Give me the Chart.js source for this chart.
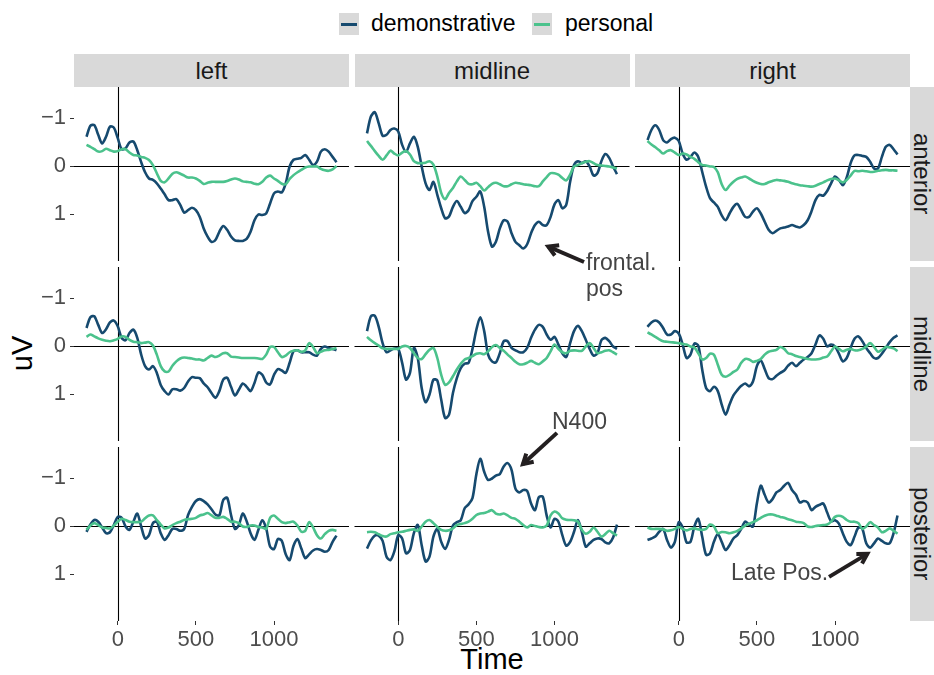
<!DOCTYPE html>
<html>
<head>
<meta charset="utf-8">
<title>ERP waveforms by region</title>
<script src="https://cdn.jsdelivr.net/npm/chart.js"></script>
<style>
  html, body { margin: 0; padding: 0; background: #fff; }
  #fig { position: relative; width: 934px; height: 675px; overflow: hidden; font-family: "Liberation Sans", Arial, Helvetica, sans-serif; }
  #fig canvas { position: absolute; left: 0; top: 0; }
  .strip { position: absolute; background: #d9d9d9; color: #1a1a1a; font-size: 24px; display: flex; align-items: center; justify-content: center; white-space: nowrap; }
  .strip.side span { writing-mode: vertical-rl; }
  .key { position: absolute; top: 13px; width: 20px; height: 22px; background: #d9d9d9; }
  .key i { position: absolute; left: 2px; right: 2px; top: 9.5px; height: 3px; }
  .ltext { position: absolute; top: 8px; font-size: 23px; line-height: 30px; color: #000; }
  .note { position: absolute; font-size: 23px; line-height: 26px; color: #444; white-space: pre; z-index: 3; }
  .title { position: absolute; font-size: 29px; line-height: 33px; color: #000; text-align: center; }
</style>
</head>
<body>
<div id="fig"></div>
<script>
// time points (ms) shared by every series
const times = [-200,-175,-150,-125,-100,-75,-50,-25,0,25,50,75,100,125,150,175,200,225,250,275,300,325,350,375,400,425,450,475,500,525,550,575,600,625,650,675,700,725,750,775,800,825,850,875,900,925,950,975,1000,1025,1050,1075,1100,1125,1150,1175,1200,1225,1250,1275,1300,1325,1350,1375,1400];
const xTicks = [0, 500, 1000];
const yTicks = [-1, 0, 1];
const colNames = ['left', 'midline', 'right'];
const rowNames = ['anterior', 'midline', 'posterior'];
const seriesNames = ['demonstrative', 'personal'];

// anterior row
const demo_ant_left = [-0.61,-0.84,-0.85,-0.65,-0.47,-0.61,-0.82,-0.80,-0.58,-0.35,
  -0.37,-0.49,-0.51,-0.33,-0.08,0.13,0.26,0.29,0.36,0.47,
  0.59,0.71,0.71,0.69,0.81,0.97,0.92,0.87,0.92,1.06,
  1.30,1.47,1.58,1.54,1.37,1.25,1.33,1.47,1.55,1.56,
  1.56,1.52,1.37,1.13,1.01,1.02,0.99,0.78,0.57,0.53,
  0.55,0.36,0.01,-0.13,-0.15,-0.17,-0.23,-0.13,-0.02,-0.09,
  -0.30,-0.35,-0.30,-0.19,-0.08];
const pers_ant_left = [-0.44,-0.40,-0.35,-0.30,-0.31,-0.36,-0.33,-0.30,-0.31,-0.35,
  -0.35,-0.28,-0.23,-0.22,-0.19,-0.17,-0.125,-0.02,0.15,0.31,
  0.34,0.26,0.16,0.13,0.16,0.20,0.24,0.24,0.26,0.31,
  0.375,0.35,0.33,0.33,0.33,0.33,0.31,0.28,0.26,0.28,
  0.32,0.33,0.34,0.37,0.38,0.33,0.24,0.20,0.26,0.31,
  0.37,0.38,0.27,0.19,0.13,0.08,0.03,0.01,0.01,0.01,
  0.06,0.09,0.10,0.07,0.00];
const demo_ant_mid = [-0.68,-1.03,-1.12,-0.89,-0.63,-0.65,-0.75,-0.78,-0.72,-0.44,
  -0.30,-0.47,-0.61,-0.40,0.01,0.36,0.50,0.33,0.60,0.88,
  1.09,1.05,0.85,0.73,0.85,0.98,0.92,0.73,0.64,0.53,
  0.85,1.37,1.68,1.58,1.30,1.13,1.16,1.40,1.58,1.65,
  1.72,1.63,1.40,1.23,1.16,1.23,1.23,1.06,0.80,0.71,
  0.88,0.81,0.33,-0.02,-0.10,-0.06,-0.10,0.01,0.20,0.15,
  -0.10,-0.25,-0.17,0.01,0.17];
const pers_ant_mid = [-0.52,-0.42,-0.31,-0.21,-0.13,-0.22,-0.32,-0.26,-0.22,-0.28,
  -0.31,-0.24,-0.10,-0.06,-0.06,-0.07,-0.10,-0.03,0.22,0.56,
  0.69,0.56,0.46,0.32,0.22,0.29,0.37,0.38,0.35,0.42,
  0.51,0.44,0.37,0.35,0.38,0.42,0.42,0.38,0.35,0.36,
  0.38,0.39,0.40,0.42,0.42,0.32,0.23,0.15,0.15,0.18,
  0.25,0.30,0.18,0.01,-0.02,-0.06,-0.09,-0.10,-0.06,-0.02,
  -0.01,0.00,0.01,0.03,0.05];
const demo_ant_right = [-0.54,-0.75,-0.85,-0.75,-0.54,-0.49,-0.56,-0.59,-0.52,-0.26,
  -0.13,-0.19,-0.28,-0.19,0.12,0.43,0.67,0.76,0.85,1.03,
  1.13,0.99,0.85,0.79,0.92,1.06,1.06,0.95,0.88,0.99,
  1.16,1.33,1.40,1.35,1.30,1.28,1.26,1.23,1.26,1.28,
  1.23,1.13,0.94,0.71,0.60,0.62,0.52,0.36,0.22,0.29,
  0.40,0.24,-0.06,-0.22,-0.23,-0.21,-0.19,-0.09,0.05,0.05,
  -0.19,-0.40,-0.44,-0.35,-0.24];
const pers_ant_right = [-0.52,-0.45,-0.39,-0.33,-0.26,-0.31,-0.33,-0.28,-0.23,-0.26,
  -0.24,-0.19,-0.15,-0.08,-0.02,-0.01,0.01,0.02,0.13,0.38,
  0.50,0.41,0.33,0.27,0.24,0.22,0.26,0.31,0.35,0.375,
  0.375,0.34,0.31,0.29,0.30,0.31,0.33,0.36,0.38,0.40,
  0.41,0.42,0.43,0.41,0.375,0.34,0.30,0.27,0.26,0.30,
  0.34,0.29,0.20,0.10,0.11,0.10,0.11,0.125,0.12,0.10,
  0.09,0.08,0.09,0.09,0.10];

// midline row
const demo_mid_left = [-0.375,-0.60,-0.62,-0.44,-0.27,-0.35,-0.49,-0.53,-0.41,-0.17,
  -0.12,-0.27,-0.34,-0.17,0.18,0.42,0.49,0.42,0.56,0.81,
  0.94,1.01,0.90,0.90,0.93,0.875,0.74,0.65,0.66,0.67,
  0.78,0.86,0.98,1.08,0.94,0.70,0.66,0.85,1.03,0.91,
  0.78,0.85,0.94,0.77,0.55,0.60,0.76,0.80,0.60,0.48,
  0.51,0.56,0.35,0.11,0.09,0.13,0.13,0.13,0.18,0.20,
  0.06,0.01,0.04,0.06,0.09];
const pers_mid_left = [-0.19,-0.24,-0.20,-0.16,-0.13,-0.11,-0.10,-0.12,-0.15,-0.20,
  -0.19,-0.13,-0.09,-0.08,-0.06,-0.07,-0.08,-0.01,0.18,0.42,
  0.53,0.53,0.41,0.32,0.26,0.24,0.25,0.26,0.28,0.28,
  0.30,0.25,0.20,0.23,0.20,0.15,0.15,0.22,0.23,0.24,
  0.25,0.25,0.25,0.25,0.26,0.27,0.18,0.02,0.02,0.13,
  0.23,0.20,0.13,0.10,0.09,0.12,0.09,-0.06,0.02,0.15,
  0.12,0.09,0.08,0.06,0.04];
const demo_mid_mid = [-0.31,-0.62,-0.63,-0.40,-0.06,0.13,0.09,0.05,0.06,0.35,
  0.70,0.56,0.04,0.25,0.875,1.17,1.01,0.70,0.72,1.12,
  1.50,1.43,0.98,0.67,0.46,0.37,0.35,0.06,-0.34,-0.60,
  -0.31,0.18,0.32,0.34,0.15,-0.10,-0.10,0.04,0.09,0.13,
  0.13,0.04,-0.17,-0.34,-0.44,-0.40,-0.24,-0.13,-0.19,-0.03,
  0.15,0.23,-0.06,-0.31,-0.42,-0.31,-0.13,0.06,0.20,0.15,
  -0.12,-0.17,-0.10,0.01,0.06];
const pers_mid_mid = [-0.19,-0.12,-0.06,-0.01,0.05,0.06,0.06,0.06,0.06,0.01,
  0.00,0.04,0.15,0.25,0.27,0.17,0.08,0.04,0.25,0.60,
  0.81,0.76,0.63,0.49,0.37,0.28,0.25,0.21,0.16,0.15,
  0.17,0.11,0.02,-0.02,0.04,0.10,0.18,0.25,0.33,0.38,
  0.38,0.35,0.31,0.35,0.38,0.32,0.25,0.11,-0.03,0.06,
  0.13,0.15,0.10,0.09,0.10,0.10,0.01,-0.06,0.04,0.15,
  0.13,0.10,0.09,0.13,0.18];
const demo_mid_right = [-0.40,-0.49,-0.53,-0.49,-0.375,-0.24,-0.24,-0.31,-0.26,-0.03,
  0.25,0.18,-0.05,-0.01,0.49,0.875,0.94,0.85,0.94,1.22,
  1.43,1.22,1.03,0.92,0.83,0.78,0.84,0.74,0.42,0.30,
  0.48,0.67,0.69,0.62,0.56,0.51,0.41,0.35,0.42,0.35,
  0.28,0.23,0.15,-0.03,-0.22,-0.15,0.01,-0.03,0.01,0.16,
  0.32,0.25,0.04,-0.15,-0.20,-0.10,0.04,0.15,0.25,0.25,
  0.16,0.04,-0.08,-0.17,-0.22];
const pers_mid_right = [-0.285,-0.24,-0.19,-0.14,-0.10,-0.09,-0.08,-0.07,-0.06,-0.04,
  -0.03,0.01,0.03,0.15,0.28,0.25,0.16,0.18,0.39,0.60,
  0.64,0.60,0.54,0.49,0.35,0.27,0.28,0.33,0.31,0.27,
  0.18,0.12,0.10,0.08,0.02,0.06,0.15,0.17,0.21,0.23,
  0.25,0.27,0.28,0.28,0.27,0.24,0.22,0.11,0.01,0.06,
  0.11,0.08,0.06,0.09,0.09,0.06,0.01,-0.06,0.02,0.12,
  0.08,0.02,0.03,0.05,0.11];

// posterior row
const demo_post_left = [0.12,-0.03,-0.125,-0.09,0.03,0.15,0.13,-0.02,-0.19,-0.17,
  0.01,0.08,-0.09,-0.26,0.01,0.26,0.19,-0.06,-0.09,0.15,
  0.29,0.19,0.06,0.06,0.10,0.06,-0.23,-0.40,-0.52,-0.56,
  -0.52,-0.45,-0.35,-0.24,-0.22,-0.54,-0.59,-0.23,0.06,-0.02,
  -0.26,-0.10,0.15,0.29,0.08,-0.12,0.05,0.43,0.48,0.27,
  0.31,0.59,0.71,0.41,0.27,0.47,0.67,0.59,0.51,0.48,
  0.50,0.535,0.50,0.33,0.20];
const pers_post_left = [0.08,-0.01,-0.06,-0.02,0.03,0.04,0.05,-0.01,-0.09,-0.15,
  -0.125,-0.09,-0.08,-0.08,-0.09,-0.16,-0.22,-0.22,-0.125,-0.03,
  0.05,0.03,-0.02,-0.06,-0.09,-0.125,-0.14,-0.15,-0.17,-0.22,
  -0.24,-0.27,-0.22,-0.17,-0.17,-0.19,-0.15,-0.09,-0.09,-0.06,
  0.01,0.02,-0.01,-0.01,0.02,0.03,0.06,-0.17,-0.22,-0.15,
  -0.08,-0.06,-0.08,-0.09,-0.01,0.12,0.10,-0.08,0.03,0.19,
  0.26,0.17,0.10,0.08,0.10];
const demo_post_mid = [0.47,0.30,0.20,0.20,0.31,0.64,0.71,0.53,0.19,0.26,
  0.57,0.50,0.15,-0.02,0.40,0.74,0.64,0.22,0.06,0.33,
  0.48,0.29,-0.01,-0.08,-0.12,-0.37,-0.45,-0.58,-1.08,-1.40,
  -1.13,-0.96,-0.99,-1.05,-1.08,-1.24,-1.31,-1.17,-0.78,-0.70,
  -0.75,-0.73,-0.47,-0.33,-0.60,-0.61,-0.215,0.03,-0.15,-0.09,
  0.19,0.41,0.33,0.12,-0.125,0.12,0.43,0.36,0.29,0.26,
  0.27,0.34,0.36,0.24,-0.03];
const pers_post_mid = [0.13,0.12,0.13,0.17,0.21,0.22,0.17,0.15,0.13,0.12,
  0.10,0.08,0.07,0.10,0.01,-0.09,-0.125,-0.06,0.02,0.08,
  0.10,0.09,0.05,-0.02,-0.04,-0.06,-0.09,-0.15,-0.23,-0.26,
  -0.27,-0.30,-0.33,-0.26,-0.24,-0.26,-0.22,-0.17,-0.15,-0.09,
  -0.02,0.03,-0.02,0.00,0.02,0.03,-0.01,-0.22,-0.30,-0.26,
  -0.16,-0.13,-0.125,-0.12,-0.09,0.08,0.16,0.12,0.03,0.12,
  0.22,0.17,0.10,0.15,0.20];
const demo_post_right = [0.29,0.26,0.22,0.12,0.06,0.29,0.45,0.33,-0.08,0.03,
  0.34,0.33,0.01,-0.15,0.22,0.60,0.57,0.33,0.17,0.33,
  0.50,0.40,0.26,0.19,0.06,-0.09,-0.03,0.01,-0.47,-0.84,
  -0.65,-0.49,-0.56,-0.70,-0.75,-0.84,-0.90,-0.75,-0.65,-0.49,
  -0.52,-0.49,-0.33,-0.40,-0.44,-0.47,-0.28,-0.10,-0.12,-0.05,
  0.15,0.33,0.40,0.22,0.03,0.06,0.36,0.45,0.36,0.26,
  0.31,0.36,0.36,0.15,-0.22];
const pers_post_right = [0.03,0.06,0.06,0.06,0.07,0.10,0.09,0.06,0.02,0.06,
  0.09,0.06,0.05,0.07,0.08,0.06,-0.03,0.01,0.15,0.125,
  0.13,0.15,0.13,0.10,0.05,-0.01,-0.05,-0.08,-0.12,-0.17,
  -0.215,-0.24,-0.24,-0.215,-0.19,-0.17,-0.14,-0.12,-0.09,-0.08,
  -0.06,0.01,0.02,0.00,-0.01,-0.02,-0.03,-0.09,-0.19,-0.215,
  -0.19,-0.125,-0.09,-0.09,-0.06,0.06,0.01,-0.08,-0.02,0.03,
  0.13,0.10,0.05,0.10,0.16];

// [row][col] -> [demonstrative, personal]
const panels = [
  [[demo_ant_left, pers_ant_left], [demo_ant_mid, pers_ant_mid], [demo_ant_right, pers_ant_right]],
  [[demo_mid_left, pers_mid_left], [demo_mid_mid, pers_mid_mid], [demo_mid_right, pers_mid_right]],
  [[demo_post_left, pers_post_left], [demo_post_mid, pers_post_mid], [demo_post_right, pers_post_right]]
];

// annotations: arrow from/to in data units of their panel, label placed in pixels
const notes = [
  { row: 0, col: 1, from: [1189, 2.0], to: [960, 1.68], text: 'frontal.\npos', left: 586, top: 249 },
  { row: 2, col: 1, from: [1016, -1.94], to: [798, -1.29], text: 'N400', left: 552, top: 408 },
  { row: 2, col: 2, from: [962, 1.06], to: [1207, 0.58], text: 'Late Pos.', left: 731, top: 559 }
];

const W = 934, H = 675;
const colLeft = [74, 354.5, 635], rowTop = [87, 267, 447];
const PW = 275, PH = 174, AXW = 60, AXH = 40;
const BLUE = '#164a6f', GREEN = '#4bc28c';
const FONT = '"Liberation Sans", Arial, Helvetica, sans-serif';
const fig = document.getElementById('fig');

function addDiv(cls, css, html) {
  const d = document.createElement('div');
  d.className = cls;
  Object.assign(d.style, css);
  if (html !== undefined) d.innerHTML = html;
  fig.appendChild(d);
  return d;
}

// legend
addDiv('key', { left: '339px' }, '<i style="background:' + BLUE + '"></i>');
addDiv('ltext', { left: '371px' }).textContent = seriesNames[0];
addDiv('key', { left: '532px' }, '<i style="background:' + GREEN + '"></i>');
addDiv('ltext', { left: '565px' }).textContent = seriesNames[1];

// facet strips
colNames.forEach((n, c) => {
  addDiv('strip', { left: colLeft[c] + 'px', top: '54px', width: PW + 'px', height: '33px' }).textContent = n;
});
rowNames.forEach((n, r) => {
  const s = addDiv('strip side', { left: (colLeft[2] + PW) + 'px', top: rowTop[r] + 'px', width: (W - colLeft[2] - PW) + 'px', height: PH + 'px' });
  const sp = document.createElement('span');
  sp.textContent = n;
  s.appendChild(sp);
});

// axis titles
addDiv('title', { left: '292px', top: '643px', width: '400px' }).textContent = 'Time';
addDiv('title', { left: '-28px', top: '337px', width: '100px', transform: 'rotate(-90deg)' }).textContent = 'uV';

const zeroLines = {
  id: 'zeroLines',
  beforeDatasetsDraw(chart) {
    const { ctx, chartArea: a, scales: { x, y } } = chart;
    const px = Math.round(x.getPixelForValue(0)) + 0.5;
    const py = Math.round(y.getPixelForValue(0)) + 0.5;
    ctx.save();
    ctx.strokeStyle = '#000';
    ctx.lineWidth = 1.1;
    ctx.beginPath();
    ctx.moveTo(a.left, py); ctx.lineTo(a.right, py);
    ctx.moveTo(px, a.top); ctx.lineTo(px, a.bottom);
    ctx.stroke();
    ctx.restore();
  }
};

function arrowPlugin(list) {
  return {
    id: 'arrows',
    afterDatasetsDraw(chart) {
      const { ctx, scales: { x, y } } = chart;
      list.forEach(a => {
        const x0 = x.getPixelForValue(a.from[0]), y0 = y.getPixelForValue(a.from[1]);
        const x1 = x.getPixelForValue(a.to[0]), y1 = y.getPixelForValue(a.to[1]);
        const ang = Math.atan2(y1 - y0, x1 - x0), hl = 11;
        ctx.save();
        ctx.strokeStyle = '#231f20';
        ctx.lineWidth = 4;
        ctx.lineJoin = 'miter';
        ctx.beginPath();
        ctx.moveTo(x0, y0); ctx.lineTo(x1, y1);
        ctx.stroke();
        ctx.beginPath();
        ctx.moveTo(x1 - hl * Math.cos(ang - Math.PI / 6), y1 - hl * Math.sin(ang - Math.PI / 6));
        ctx.lineTo(x1, y1);
        ctx.lineTo(x1 - hl * Math.cos(ang + Math.PI / 6), y1 - hl * Math.sin(ang + Math.PI / 6));
        ctx.stroke();
        ctx.restore();
      });
    }
  };
}

function makePanel(r, c) {
  const [demo, pers] = panels[r][c];
  const showY = c === 0, showX = r === 2;
  const L = colLeft[c], T = rowTop[r];
  const cv = document.createElement('canvas');
  cv.width = W; cv.height = H;
  fig.appendChild(cv);
  const tickFont = { family: FONT, size: 22 };
  new Chart(cv, {
    type: 'line',
    data: {
      datasets: [
        { label: seriesNames[0], data: times.map((t, i) => ({ x: t, y: demo[i] })), borderColor: BLUE, order: 2 },
        { label: seriesNames[1], data: times.map((t, i) => ({ x: t, y: pers[i] })), borderColor: GREEN, order: 1 }
      ]
    },
    options: {
      responsive: false,
      animation: false,
      devicePixelRatio: 1,
      events: [],
      layout: { padding: { left: showY ? L - AXW : L, top: T, right: W - L - PW, bottom: H - T - PH - (showX ? AXH : 0) } },
      elements: {
        point: { radius: 0 },
        line: { borderWidth: 2.6, tension: 0.3, fill: false, borderJoinStyle: 'round' }
      },
      scales: {
        x: {
          type: 'linear', min: -280, max: 1480, display: showX,
          afterBuildTicks: s => { s.ticks = xTicks.map(v => ({ value: v })); },
          afterFit: s => { if (showX) s.height = AXH; },
          ticks: { font: tickFont, color: '#4d4d4d', padding: 2, maxRotation: 0, autoSkip: false,
            callback: v => String(v) },
          grid: { drawOnChartArea: false, drawTicks: true, tickLength: 4, color: '#333333' },
          border: { display: false }
        },
        y: {
          type: 'linear', reverse: true, min: -1.646, max: 1.979, display: showY,
          afterBuildTicks: s => { s.ticks = yTicks.map(v => ({ value: v })); },
          afterFit: s => { if (showY) s.width = AXW; },
          ticks: { font: tickFont, color: '#4d4d4d', padding: 4, autoSkip: false,
            callback: v => v < 0 ? '\u2212' + (-v) : String(v) },
          grid: { drawOnChartArea: false, drawTicks: true, tickLength: 4, color: '#333333' },
          border: { display: false }
        }
      },
      plugins: { legend: { display: false }, tooltip: { enabled: false } }
    },
    plugins: [zeroLines, arrowPlugin(notes.filter(n => n.row === r && n.col === c))]
  });
}

for (let r = 0; r < 3; r++) for (let c = 0; c < 3; c++) makePanel(r, c);

notes.forEach(n => {
  addDiv('note', { left: n.left + 'px', top: n.top + 'px' }).textContent = n.text;
});
</script>
</body>
</html>
